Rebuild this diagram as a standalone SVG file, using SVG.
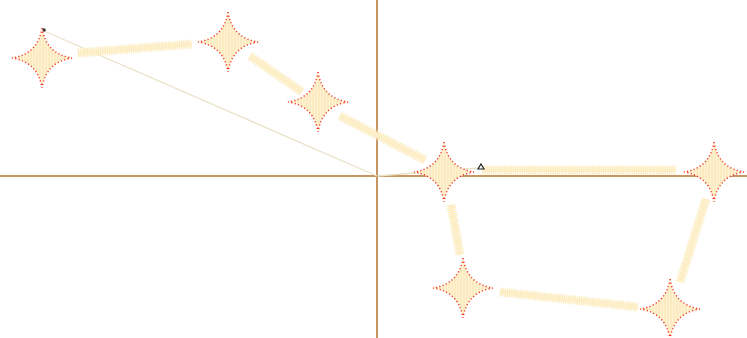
<svg xmlns="http://www.w3.org/2000/svg" xmlns:xlink="http://www.w3.org/1999/xlink" width="747" height="338" viewBox="0 0 747 338">
<style>
.axis{stroke:#b5722f;stroke-width:1.5;fill:none}
.thin{stroke:#e9e2c9;stroke-width:1.3;fill:none}
.band{stroke:#fcebbd;stroke-width:9;stroke-dasharray:1.3 0.9;fill:none}
.bandc{stroke:#fef4d8;stroke-width:5;fill:none}
.star{fill:url(#hatch);stroke:#f03a2a;stroke-width:1.5;stroke-dasharray:1.2 2.3}
</style>
<defs>
<pattern id="hatch" width="3" height="3" patternUnits="userSpaceOnUse">
<rect width="3" height="3" fill="#fef3d6"/>
<line x1="1" y1="0" x2="1" y2="3" stroke="#fbe6b2" stroke-width="1.2"/>
</pattern>
<path id="star" d="M0,-30 Q4,-4 30,0 Q4,4 0,30 Q-4,4 -30,0 Q-4,-4 0,-30 Z"/>
</defs>
<g id="axes">
<line class="axis" x1="377" y1="0" x2="377" y2="338"/>
<line class="axis" x1="0" y1="176" x2="747" y2="176"/>
</g>
<g id="connectors">
<line class="thin" x1="44" y1="31" x2="377" y2="176"/>
<line class="thin" x1="377" y1="176" x2="478" y2="168"/>
<path class="bandc" d="M78,53 L192,44"/>
<path class="band" d="M78,53 L192,44"/>
<path class="bandc" d="M250,56 L302,92"/>
<path class="band" d="M250,56 L302,92"/>
<path class="bandc" d="M340,116 L425,160"/>
<path class="band" d="M340,116 L425,160"/>
<path class="bandc" d="M482,170 L676,170"/>
<path class="band" d="M482,170 L676,170"/>
<path class="bandc" d="M451,205 L460,255"/>
<path class="band" d="M451,205 L460,255"/>
<path class="bandc" d="M500,292 L638,307"/>
<path class="band" d="M500,292 L638,307"/>
<path class="bandc" d="M706,199 L680,282"/>
<path class="band" d="M706,199 L680,282"/>
<circle cx="44" cy="30" r="1.8" fill="#333"/>
<path d="M481,164 L484,169 L478,169 Z" fill="#fff" stroke="#222" stroke-width="1.2"/>
</g>
<g id="n1" transform="translate(42,58)"><use href="#star" class="star"/></g>
<g id="n2" transform="translate(228,42)"><use href="#star" class="star"/></g>
<g id="n3" transform="translate(318,102)"><use href="#star" class="star"/></g>
<g id="n4" transform="translate(444,172)"><use href="#star" class="star"/></g>
<g id="n5" transform="translate(714,172)"><use href="#star" class="star"/></g>
<g id="n6" transform="translate(463,288)"><use href="#star" class="star"/></g>
<g id="n7" transform="translate(670,309)"><use href="#star" class="star"/></g>
</svg>
